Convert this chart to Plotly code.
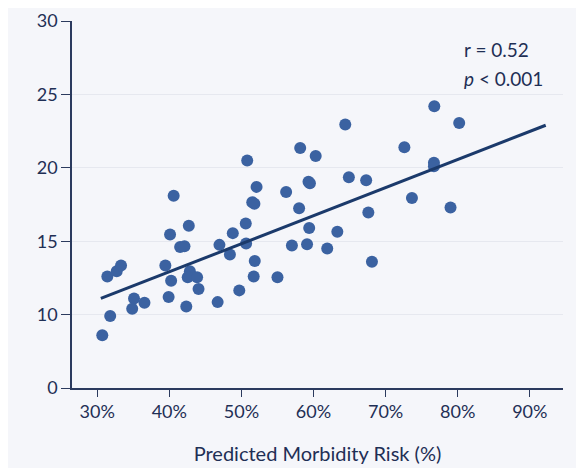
import plotly.graph_objects as go

# Predicted morbidity risk (%) and outcome values
risk = [30.7, 31.8, 31.4, 32.7, 33.3, 35.1, 34.85, 36.55, 39.45, 40.25,
        39.9, 42.35, 42.85, 42.55, 43.85, 44.05, 46.7, 40.6, 42.7, 40.1,
        41.5, 42.1, 50.8, 58.15, 60.3, 52.1, 56.2, 59.3, 59.5, 51.5,
        51.8, 58.0, 50.6, 48.8, 46.95, 50.65, 48.4, 51.85, 51.7, 55.0,
        49.7, 59.4, 57.0, 59.1, 61.9, 63.3, 64.4, 76.75, 80.2, 72.6,
        76.7, 76.7, 64.9, 67.3, 73.65, 79.0, 67.6, 68.1]
outcome = [8.6, 9.9, 12.6, 12.95, 13.35, 11.1, 10.4, 10.8, 13.35, 12.3,
           11.2, 10.55, 12.95, 12.55, 12.55, 11.75, 10.85, 18.1, 16.05, 15.45,
           14.6, 14.65, 20.5, 21.35, 20.8, 18.7, 18.35, 19.05, 18.95, 17.65,
           17.55, 17.25, 16.2, 15.55, 14.75, 14.85, 14.1, 13.65, 12.6, 12.55,
           11.65, 15.9, 14.7, 14.8, 14.5, 15.65, 22.95, 24.2, 23.05, 21.4,
           20.35, 20.1, 19.35, 19.15, 17.95, 17.3, 16.95, 13.6]

# Regression line endpoints
fit_x = [30.5, 92.2]
fit_y = [11.1, 22.9]

# Axis ticks (the reference's y axis shows "0" at the bottom break)
x_ticks = [30, 40, 50, 60, 70, 80, 90]
x_tick_text = ["30%", "40%", "50%", "60%", "70%", "80%", "90%"]
y_ticks = [5, 10, 15, 20, 25, 30]
y_tick_text = ["0", "10", "15", "20", "25", "30"]

navy = "#1f2f55"
font = "Lato, Open Sans, sans-serif"

fig = go.Figure()
fig.add_trace(go.Scatter(
    x=risk, y=outcome, mode="markers",
    marker=dict(size=12, color="#3b62a1", line=dict(width=0)),
    showlegend=False, hoverinfo="skip"))
fig.add_trace(go.Scatter(
    x=fit_x, y=fit_y, mode="lines",
    line=dict(color="#1b3a6b", width=3),
    showlegend=False, hoverinfo="skip"))

fig.update_layout(
    width=584, height=468,
    margin=dict(l=64, r=29, t=13, b=88, autoexpand=False),
    paper_bgcolor="#f5f6fa", plot_bgcolor="#f5f6fa",
    font=dict(family=font, color=navy, size=18),
    xaxis=dict(range=[26.5, 94.6], tickvals=x_ticks, ticktext=x_tick_text,
               showgrid=False, zeroline=False, automargin=False,
               showline=True, linecolor="#2b3a5e", linewidth=1.5,
               ticks="outside", ticklen=7, tickcolor="#2b3a5e",
               tickfont=dict(size=18, color=navy),
               title=dict(text="Predicted Morbidity Risk (%)",
                          font=dict(size=20, color=navy), standoff=26)),
    yaxis=dict(range=[5, 30], tickvals=y_ticks, ticktext=y_tick_text,
               showgrid=True, gridcolor="#e6e8ef", gridwidth=1,
               zeroline=False, ticklabeloverflow="allow", automargin=False,
               showline=True, linecolor="#2b3a5e", linewidth=1.5,
               ticks="outside", ticklen=9, tickcolor="#2b3a5e",
               tickfont=dict(size=18, color=navy)),
)

fig.add_annotation(xref="paper", yref="paper", x=0.795, y=0.922,
                   xanchor="left", yanchor="middle", showarrow=False,
                   text="r = 0.52", font=dict(size=19, color=navy))
fig.add_annotation(xref="paper", yref="paper", x=0.795, y=0.844,
                   xanchor="left", yanchor="middle", showarrow=False,
                   text="<i>p</i> < 0.001", font=dict(size=19, color=navy))

fig.write_html("out.html")
